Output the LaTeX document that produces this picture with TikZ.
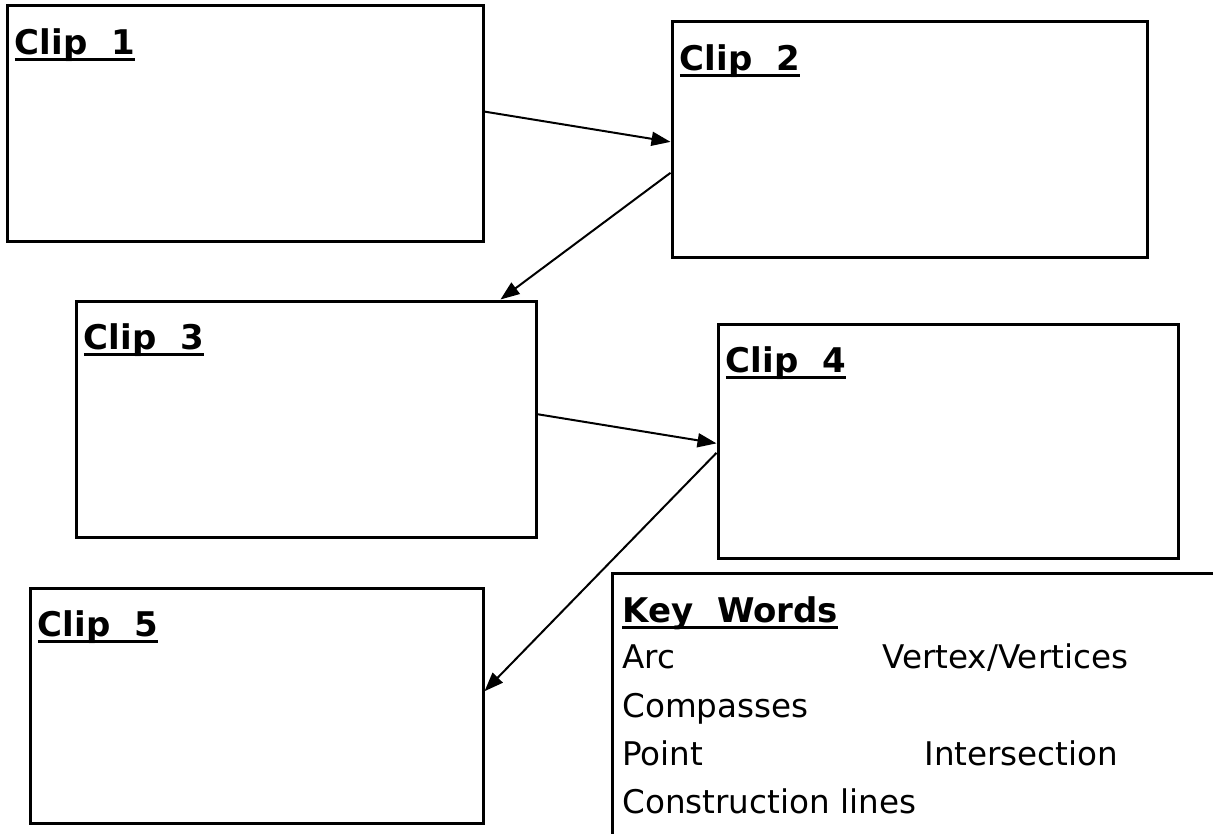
\documentclass[tikz,border=0pt]{standalone}
\usepackage{fontspec}
\setmainfont{DejaVu Sans}
\usetikzlibrary{arrows.meta}
\usetikzlibrary{positioning}
\usetikzlibrary{calc}

\newcommand{\headul}[1]{\setbox0\hbox{#1}\rlap{\rule[-0.2em]{\wd0}{0.09em}}\box0}

\tikzset{
    clipbox/.style = {draw, line width = 1.5pt, rectangle, inner sep = 0pt},
    cliptitle/.style = {anchor = base west, inner sep = 0pt, font = \fontsize{17}{20}\selectfont\bfseries},
    keyword/.style = {anchor = base west, inner sep = 0pt, font = \fontsize{16.3}{19}\selectfont},
    link/.style = {line width = 1pt, -{Triangle[length = 9.5pt, width = 7pt]}}
}

\begin{document}
\begin{tikzpicture}[x = 0.5pt, y = -0.5pt]

            \useasboundingbox (0,0) rectangle (1213,834);

            \node[clipbox, minimum width = 238pt, minimum height = 117.5pt] (clip_1) at (245,123.5) {};
            \node[clipbox, minimum width = 237.5pt, minimum height = 117.5pt] (clip_2) at (909.5,139.5) {};
            \node[clipbox, minimum width = 230pt, minimum height = 118pt] (clip_3) at (306,419) {};
            \node[clipbox, minimum width = 230pt, minimum height = 117pt] (clip_4) at (948,441) {};
            \node[clipbox, minimum width = 226.5pt, minimum height = 117.5pt] (clip_5) at (256.5,705.5) {};

            \foreach \n in {1,...,5}
                \node[cliptitle] (title_\n) at ($(clip_\n.north west) + (9,50)$) {\headul{Clip\hspace{0.7em}\n}};

            \path[link]
                ($(clip_1.north east)!0.45!(clip_1.south east)$) edge ($(clip_2.north west)!0.51!(clip_2.south west)$)
                ($(clip_2.north west)!0.64!(clip_2.south west)$) edge ($(clip_3.north west)!0.92!(clip_3.north east)$)
                ($(clip_3.north east)!0.48!(clip_3.south east)$) edge ($(clip_4.north west)!0.51!(clip_4.south west)$)
                ($(clip_4.north west)!0.55!(clip_4.south west)$) edge ($(clip_5.north east)!0.44!(clip_5.south east)$);

            % key words panel
            \coordinate (key) at (612,573);
            \draw[line width = 1.5pt] (1213,573) -- (key) -- (612,834);

            \node[cliptitle] (key_head) at ($(key) + (10,49)$) {\headul{Key\hspace{0.7em}Words}};
            \node[keyword] (w_arc)    at ($(key) + (10,95)$)  {Arc};
            \node[keyword] (w_vertex) at ($(key) + (270,95)$) {Vertex/Vertices};
            \node[keyword] (w_comp)   at ($(key) + (10,144)$) {Compasses};
            \node[keyword] (w_point)  at ($(key) + (10,192)$) {Point};
            \node[keyword] (w_inter)  at ($(key) + (312,192)$) {Intersection};
            \node[keyword] (w_constr) at ($(key) + (10,240)$) {Construction lines};

        \end{tikzpicture}
\end{document}
